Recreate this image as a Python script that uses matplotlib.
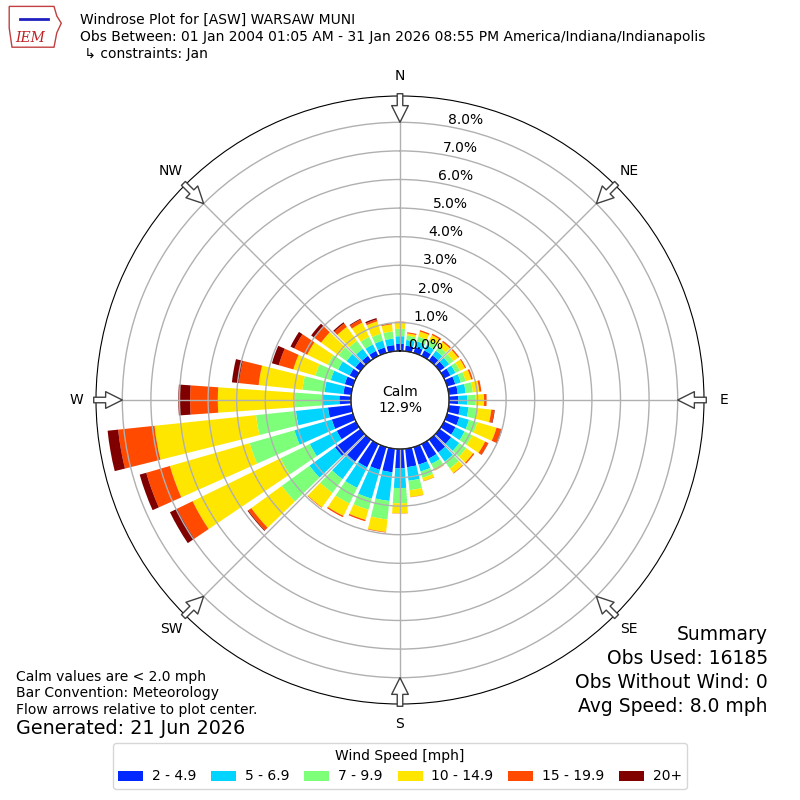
import numpy as np
import matplotlib
matplotlib.use("Agg")
import matplotlib.pyplot as plt
from matplotlib.patches import Polygon

# wind directions (deg, meteorological) and frequency (%) per speed bin
directions = np.arange(0, 360, 10)
bin_labels = ["2 - 4.9", "5 - 6.9", "7 - 9.9", "10 - 14.9", "15 - 19.9", "20+"]
bin_colors = ["#0028ff", "#00d4ff", "#7dff7a", "#ffe600", "#ff4a00", "#800000"]

spd_2_5 = [0.25, 0.20, 0.22, 0.22, 0.22, 0.22, 0.25, 0.30, 0.32, 0.33, 0.40, 0.45,
           0.45, 0.50, 0.56, 0.57, 0.64, 0.65, 0.68, 0.83, 0.83, 0.91, 0.95, 1.10,
           0.75, 0.77, 0.82, 0.41, 0.28, 0.30, 0.25, 0.22, 0.20, 0.20, 0.20, 0.22]
spd_5_7 = [0.27, 0.20, 0.20, 0.20, 0.20, 0.20, 0.20, 0.20, 0.28, 0.31, 0.30, 0.35,
           0.35, 0.35, 0.39, 0.21, 0.25, 0.48, 0.69, 1.01, 1.05, 0.80, 0.76, 1.10,
           1.05, 1.36, 1.13, 0.58, 0.66, 0.51, 0.45, 0.38, 0.30, 0.25, 0.25, 0.23]
spd_7_10 = [0.26, 0.15, 0.18, 0.20, 0.18, 0.18, 0.17, 0.18, 0.25, 0.30, 0.28, 0.30,
            0.30, 0.30, 0.30, 0.20, 0.23, 0.33, 0.53, 0.65, 0.40, 0.61, 0.60, 1.20,
            1.14, 1.63, 1.40, 0.99, 0.78, 0.56, 0.40, 0.35, 0.35, 0.30, 0.25, 0.25]
spd_10_15 = [0.20, 0.08, 0.18, 0.20, 0.20, 0.20, 0.20, 0.20, 0.23, 0.29, 0.52, 0.70,
             0.50, 0.30, 0.20, 0.05, 0.12, 0.24, 0.35, 0.44, 0.37, 0.48, 0.62, 1.32,
             3.42, 2.90, 3.57, 2.68, 1.54, 0.80, 0.80, 0.75, 0.60, 0.55, 0.45, 0.25]
spd_15_20 = [0.05, 0.04, 0.05, 0.05, 0.05, 0.05, 0.04, 0.06, 0.07, 0.09, 0.10, 0.17,
             0.12, 0.05, 0.02, 0.01, 0.01, 0.01, 0.01, 0.02, 0.05, 0.05, 0.02, 0.13,
             0.60, 0.86, 1.28, 0.97, 0.69, 0.53, 0.50, 0.30, 0.15, 0.12, 0.07, 0.04]
spd_20p = [0.00, 0.00, 0.00, 0.00, 0.00, 0.00, 0.00, 0.00, 0.00, 0.00, 0.02, 0.04,
           0.01, 0.00, 0.00, 0.00, 0.00, 0.00, 0.00, 0.00, 0.00, 0.00, 0.00, 0.03,
           0.28, 0.24, 0.37, 0.41, 0.25, 0.25, 0.15, 0.13, 0.05, 0.03, 0.05, 0.01]

calm_pct = 12.9
ring_ticks = [0, 1, 2, 3, 4, 5, 6, 7, 8]
compass = ["N", "NE", "E", "SE", "S", "SW", "W", "NW"]

rmax = 8.92
roffset = 1.71

fig = plt.figure(figsize=(8, 8), dpi=100)
ax = fig.add_axes([0.12, 0.12, 0.76, 0.76], projection="polar")
ax.set_theta_zero_location("N")
ax.set_theta_direction(-1)
ax.set_rorigin(-roffset)
ax.set_ylim(0, rmax)
ax.set_axisbelow(False)

theta = np.deg2rad(directions)
bottom = np.zeros(len(directions))
series = [spd_2_5, spd_5_7, spd_7_10, spd_10_15, spd_15_20, spd_20p]
for vals, col, lab in zip(series, bin_colors, bin_labels):
    vals = np.array(vals)
    ax.bar(theta, vals, width=np.deg2rad(8), bottom=bottom, color=col,
           edgecolor="none", label=lab, zorder=1)
    bottom = bottom + vals

ax.set_xticks(np.deg2rad(np.arange(0, 360, 45)))
ax.set_xticklabels([])
ax.set_rgrids(ring_ticks, ["%.1f%%" % t for t in ring_ticks], angle=10,
              fontsize=10)
ax.grid(True, color="#b0b0b0", lw=1)
ax.spines["polar"].set_color("black")

# calm circle
tt = np.linspace(0, 2 * np.pi, 200)
ax.plot(tt, np.zeros_like(tt), color="black", lw=1, zorder=4)
ax.text(0.5, 0.5, "Calm\n%.1f%%" % calm_pct, transform=ax.transAxes,
        ha="center", va="center", fontsize=10, zorder=5)

# compass labels and flow arrows
for i, lab in enumerate(compass):
    ang = np.deg2rad(i * 45)
    ax.text(ang, 9.62, lab, ha="center", va="center", fontsize=10,
            clip_on=False)
    ax.annotate("", xy=(ang, 8.0), xytext=(ang, 9.0),
                arrowprops=dict(arrowstyle="simple,head_length=1.2,head_width=1.2,tail_width=0.4",
                                fc="white", ec="#404040", lw=1,
                                shrinkA=0, shrinkB=0),
                annotation_clip=False, zorder=6)

# header
fig.text(0.1, 1 - 20 / 800, "Windrose Plot for [ASW] WARSAW MUNI", fontsize=10, va="center")
fig.text(0.1, 1 - 37 / 800,
         "Obs Between: 01 Jan 2004 01:05 AM - 31 Jan 2026 08:55 PM America/Indiana/Indianapolis",
         fontsize=10, va="center")
fig.text(0.1, 1 - 54 / 800, " \u21b3 constraints: Jan", fontsize=10, va="center")

# simple logo
lax = fig.add_axes([0.008, 0.935, 0.07, 0.06])
lax.axis("off")
lax.set_xlim(0, 1)
lax.set_ylim(0, 1)
lax.add_patch(Polygon([[0.05, 0.95], [0.85, 0.95], [0.9, 0.75], [0.98, 0.6],
                       [0.9, 0.4], [0.85, 0.1], [0.1, 0.1], [0.05, 0.5]],
                      closed=True, fill=False, ec="#c04040", lw=1))
lax.text(0.42, 0.3, "IEM", color="#c02020", fontsize=10, style="italic",
         family="serif", ha="center", va="center")
lax.plot([0.25, 0.75], [0.68, 0.68], color="#2020c0", lw=2)

# footer notes
fig.text(0.02, 1 - 677 / 800, "Calm values are < 2.0 mph", fontsize=10, va="center")
fig.text(0.02, 1 - 693 / 800, "Bar Convention: Meteorology", fontsize=10, va="center")
fig.text(0.02, 1 - 710 / 800, "Flow arrows relative to plot center.", fontsize=10, va="center")
fig.text(0.02, 1 - 729 / 800, "Generated: 21 Jun 2026", fontsize=13.8, va="center")

summary = ["Summary", "Obs Used: 16185", "Obs Without Wind: 0", "Avg Speed: 8.0 mph"]
for i, s in enumerate(summary):
    fig.text(0.96, 1 - (635 + 23.7 * i) / 800, s, fontsize=13.5, ha="right", va="center")

fig.legend(loc="lower center", bbox_to_anchor=(0.5, 0.005), ncol=6,
           title="Wind Speed [mph]", fontsize=10, title_fontsize=10,
           handlelength=1.8, handletextpad=0.6, columnspacing=1.1)

fig.savefig("out.png", dpi=100)
